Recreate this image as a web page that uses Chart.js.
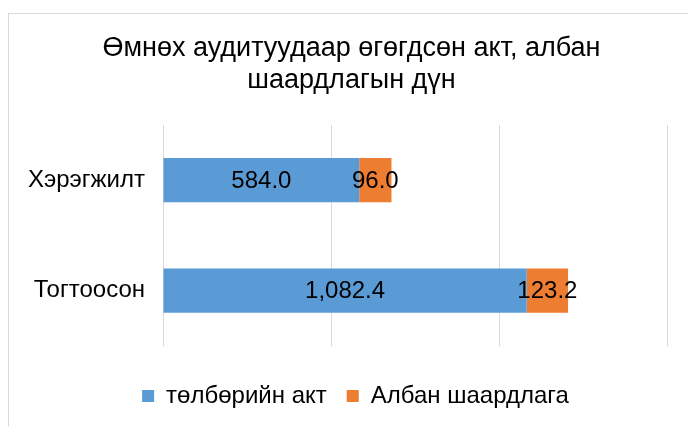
<!DOCTYPE html>
<html lang="mn">
<head>
    <meta charset="UTF-8">
    <title>Өмнөх аудитуудаар өгөгдсөн акт</title>
    <script src="https://cdn.jsdelivr.net/npm/chart.js"></script>
    <style>
        body, html {
            margin: 0;
            padding: 0;
            background: #ffffff;
            font-family: "Liberation Sans", Arial, sans-serif;
        }
        /* cadre gris du graphique */
        #frame {
            position: absolute;
            left: 8px;
            top: 13px;
            width: 700px;
            height: 430px;
            border: 1px solid #d9d9d9;
        }
        #wrap {
            position: absolute;
            left: 0;
            top: 0;
            width: 688px;
            height: 426px;
        }
    </style>
</head>
<body>
    <div id="frame"></div>
    <div id="wrap"><canvas id="barChart"></canvas></div>

    <script>
        // Données
        const categories = ['Хэрэгжилт', 'Тогтоосон'];
        const actValues = [584.0, 1082.4];
        const letterValues = [96.0, 123.2];
        const seriesNames = ['төлбөрийн акт', 'Албан шаардлага'];
        const titleLines = ['Өмнөх аудитуудаар өгөгдсөн акт, албан', 'шаардлагын дүн'];

        const FONT = '"Liberation Sans", Arial, sans-serif';
        const fmt = v => v.toLocaleString('en-US', { minimumFractionDigits: 1, maximumFractionDigits: 1 });

        // étiquettes au centre de chaque segment
        const valueLabels = {
            id: 'valueLabels',
            afterDatasetsDraw(chart) {
                const ctx = chart.ctx;
                ctx.save();
                ctx.font = '24px ' + FONT;
                ctx.fillStyle = '#000000';
                ctx.textAlign = 'center';
                ctx.textBaseline = 'middle';
                chart.data.datasets.forEach((ds, i) => {
                    chart.getDatasetMeta(i).data.forEach((bar, j) => {
                        const cx = (bar.x + bar.base) / 2;
                        ctx.fillText(fmt(ds.data[j]), cx, bar.y + 1);
                    });
                });
                ctx.restore();
            }
        };

        // décale un peu le titre et la légende vers la droite (centrés sur le cadre)
        const shiftBlocks = {
            id: 'shiftBlocks',
            afterLayout(chart) {
                chart.titleBlock.left += 26;
                chart.legend.left += 34;
            }
        };

        new Chart(document.getElementById('barChart'), {
            type: 'bar',
            data: {
                labels: categories,
                datasets: [{
                    label: seriesNames[0],
                    data: actValues,
                    backgroundColor: '#5b9bd5',
                    barPercentage: 1,
                    categoryPercentage: 0.4
                }, {
                    label: seriesNames[1],
                    data: letterValues,
                    backgroundColor: '#ed7d31',
                    barPercentage: 1,
                    categoryPercentage: 0.4
                }]
            },
            options: {
                indexAxis: 'y',
                responsive: true,
                maintainAspectRatio: false,
                animation: false,
                layout: { padding: { left: 10, right: 21, top: 0, bottom: 8 } },
                plugins: {
                    title: {
                        display: true,
                        text: titleLines,
                        color: '#000000',
                        font: { family: FONT, size: 27, weight: 'normal', lineHeight: 1.2 },
                        padding: { top: 32, bottom: 28 }
                    },
                    legend: {
                        position: 'bottom',
                        labels: {
                            color: '#000000',
                            font: { family: FONT, size: 24 },
                            boxWidth: 12,
                            boxHeight: 12,
                            padding: 20
                        }
                    },
                    tooltip: { enabled: false }
                },
                scales: {
                    x: {
                        stacked: true,
                        min: 0,
                        max: 1500,
                        ticks: { display: false, stepSize: 500 },
                        grid: { color: '#d9d9d9', drawTicks: false },
                        border: { display: false },
                        afterFit(scale) { scale.height = 18; }
                    },
                    y: {
                        stacked: true,
                        ticks: {
                            color: '#000000',
                            font: { family: FONT, size: 24 },
                            padding: 18
                        },
                        grid: { display: false, drawTicks: false },
                        border: { display: false },
                        afterFit(scale) { scale.width = 153; }
                    }
                }
            },
            plugins: [valueLabels, shiftBlocks]
        });
    </script>
</body>
</html>
